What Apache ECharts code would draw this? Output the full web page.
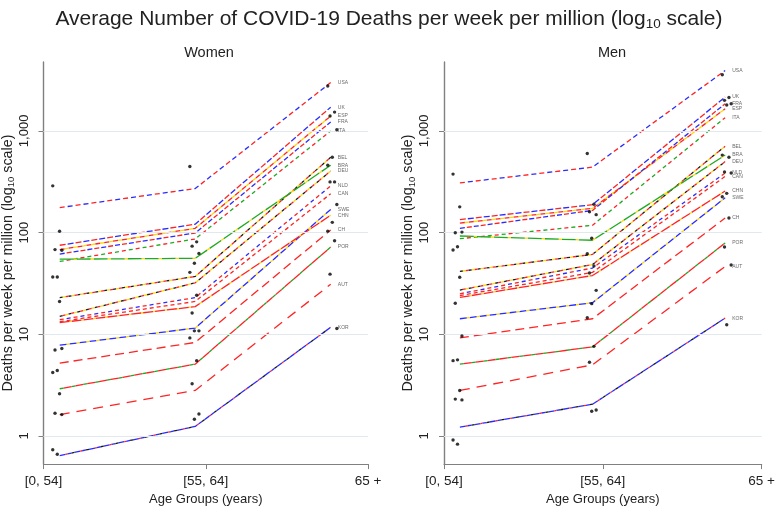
<!DOCTYPE html>
<html><head><meta charset="utf-8">
<script src="https://cdn.jsdelivr.net/npm/echarts@6/dist/echarts.min.js"></script>
<style>html,body{margin:0;padding:0;background:#fff}#c{width:778px;height:511px}</style>
</head><body><div id="c"></div>
<script>
// ---- data ----
const countries = ['USA','UK','ESP','FRA','ITA','BEL','BRA','DEU','NLD','CAN','SWE','CHN','CH','POR','AUT','KOR'];
const ageGroups = ['[0, 54]','[55, 64]','65 +'];
const yTicks = [1,10,100,1000];

// fitted values per country (same order as countries)
const womenAge0 = [176,75,68,61.5,52,22.9,54.7,15.0,13.9,13.3,7.8,13.0,5.2,2.91,1.62,0.64];
const womenAge1 = [271,121,110,99,86.5,37,55.8,32,22.9,21,11.5,18.7,8.3,5.08,2.8,1.24];
const womenAge2 = [2985,1710,1400,1225,1000,550,460,403,288,241,169,148,106,72,31,11.7];
const menAge0 = [308,134,124,110,87,41.5,92.5,27.2,25,24,14.2,23,9.2,5.08,2.8,1.22];
const menAge1 = [440,188,173,165,118,61,84,48.5,44.8,40.6,20.4,37.8,14.2,7.5,5.0,2.05];
const menAge2 = [3925,2150,1650,1850,1350,707,578,499,385,357,220,256,139,79,46.4,14.4];

// observed values (dots)
const womenObs0 = [288,103,68,67,36.5,36.5,21,7.0,7.25,4.4,4.2,2.6,1.67,1.62,0.66,0.73];
const womenObs1 = [447,81,73.5,62.4,49.9,40.6,24.2,16.2,10.8,10.8,9.2,5.5,3.26,1.64,1.46];
const womenObs2 = [2760,1530,1400,1025,550,460,315,315,189,126,103,83,39,11.4];
const menObs0 = [376,179,99.6,101,72.4,67.3,36.3,20.2,9.6,5.6,5.5,2.8,2.3,2.26,0.83,0.91];
const menObs1 = [600,190,160,150,88,62,47,40,27,20,14.5,7.6,5.3,1.8,1.75];
const menObs2 = [3565,2130,1997,1850,1800,578,550,395,385,243,225,139,72,48,12.4];

// ---- styling ----
const FONT = 'Liberation Sans, Arial, Helvetica, sans-serif';
const R='#ff2424', B='#2b2bff', Y='#ffd900', G='#1faa1f', K='#1a1a1a';
const flags = {
  USA:[[R,5],[null,3],[B,5],[null,3]],
  UK:[[R,6],[null,2],[B,6],[null,2]],
  ESP:[[R,5],[Y,4]],
  FRA:[[B,5],[null,2],[R,5],[null,2]],
  ITA:[[G,4],[null,3],[R,4],[null,3]],
  BEL:[[K,3],[Y,3],[R,3]],
  BRA:[[G,14],[Y,3]],
  DEU:[[K,3],[R,3],[Y,3]],
  NLD:[[R,4],[null,3],[B,4],[null,3]],
  CAN:[[R,4],[null,3]],
  SWE:[[B,7],[Y,3]],
  CHN:[[R,10],[Y,2]],
  CH:[[R,9],[null,5]],
  POR:[[G,4],[R,8]],
  AUT:[[R,10],[null,7]],
  KOR:[[B,6],[R,2],[B,4],[K,3]]
};
const linePos = [0.1, 0.935, 1.77];
const obsPos = [0.085, 0.93, 1.78];
const labelX = 1.805;

function lineSeries(ax, fits) {
  const out = [];
  countries.forEach((c, i) => {
    const pal = flags[c];
    const P = pal.reduce((s, p) => s + p[1], 0);
    const data = linePos.map((x, k) => [x, fits[k][i]]);
    let s = 0;
    pal.forEach(([col, len]) => {
      if (col) out.push({
        type:'line', xAxisIndex:ax, yAxisIndex:ax, data, symbol:'none', showSymbol:false,
        silent:true, animation:false, z:3,
        lineStyle:{color:col, width:1.3, type:[len, P - len], dashOffset:(P - s) % P, cap:'butt'}
      });
      s += len;
    });
  });
  return out;
}
function dotSeries(ax, obsArrays) {
  const data = [];
  obsArrays.forEach((arr, k) => {
    arr.forEach((v, i) => {
      const jit = (((i * 3) % 5) - 2) * 0.014;
      data.push([obsPos[k] + jit, v]);
    });
  });
  return {type:'scatter', xAxisIndex:ax, yAxisIndex:ax, data, symbolSize:3.4,
    itemStyle:{color:'#000'}, silent:true, animation:false, z:5};
}
function labelSeries(ax, fits) {
  return {type:'scatter', xAxisIndex:ax, yAxisIndex:ax, symbolSize:1,
    itemStyle:{color:'rgba(0,0,0,0)'}, silent:true, animation:false, z:6,
    data: countries.map((c, i) => ({name:c, value:[labelX, fits[2][i]]})),
    label:{show:true, position:'right', distance:1, formatter:'{b}', fontSize:5, color:'#444', fontFamily:FONT}};
}
function gridSeries(ax) {
  return {type:'scatter', xAxisIndex:ax, yAxisIndex:ax, data:[], silent:true, animation:false, z:1,
    markLine:{silent:true, symbol:['none','none'], label:{show:false}, animation:false,
      lineStyle:{color:'#e1e9ee', width:1, type:'solid'},
      data: yTicks.map(v => ({yAxis:v}))}};
}
const axisColor = '#808080';
const nameRich = {
  a:{fontSize:14.3, color:'#222', fontFamily:FONT, fontWeight:'normal'},
  b:{fontSize:9.5, color:'#222', fontFamily:FONT, fontWeight:'normal', verticalAlign:'bottom', lineHeight:17}
};
function xAxis(ax) {
  return {type:'value', gridIndex:ax, min:0, max:2,
    axisLine:{show:true, lineStyle:{color:axisColor, width:1.2}},
    axisTick:{show:true, customValues:[0,1,2], length:5, lineStyle:{color:axisColor}},
    axisLabel:{customValues:[0,1,2], formatter:v => ageGroups[Math.round(v)], fontSize:13.5, color:'#222', fontFamily:FONT, margin:10},
    splitLine:{show:false},
    name:'Age Groups (years)', nameLocation:'middle', nameGap:25,
    nameTextStyle:{fontSize:13, color:'#222', fontFamily:FONT}};
}
function yAxis(ax) {
  return {type:'log', logBase:10, gridIndex:ax, min:0.528, max:4760,
    axisLine:{show:true, lineStyle:{color:axisColor, width:1.4}},
    axisTick:{show:true, customValues:yTicks, length:5, lineStyle:{color:axisColor}},
    axisLabel:{customValues:yTicks, rotate:90, formatter:v => Number(v).toLocaleString('en-US'), fontSize:13, color:'#222', fontFamily:FONT, margin:13},
    splitLine:{show:false},
    name:'{a|Deaths per week per million (log}{b|10}{a| scale)}', nameLocation:'middle', nameGap:27,
    nameTextStyle:{rich:nameRich}};
}

const option = {
  backgroundColor:'#fff',
  animation:false,
  title:[
    {text:'{a|Average Number of COVID-19 Deaths per week per million (log}{b|10}{a| scale)}', left:'center', top:2,
     textStyle:{fontWeight:'normal', rich:{a:{fontSize:21, color:'#222', fontFamily:FONT, fontWeight:'normal'}, b:{fontSize:13.5, color:'#222', fontFamily:FONT, fontWeight:'normal', verticalAlign:'bottom', lineHeight:24}}}},
    {text:'Women', left:204, textAlign:'center', top:40, textStyle:{fontSize:14.5, fontWeight:'normal', color:'#222', fontFamily:FONT}},
    {text:'Men', left:607, textAlign:'center', top:40, textStyle:{fontSize:14.5, fontWeight:'normal', color:'#222', fontFamily:FONT}}
  ],
  grid:[
    {left:40, top:62, width:328, height:409},
    {left:444, top:62, width:326, height:409}
  ],
  xAxis:[xAxis(0), xAxis(1)],
  yAxis:[yAxis(0), yAxis(1)],
  series:[
    gridSeries(0), gridSeries(1),
    ...lineSeries(0, [womenAge0, womenAge1, womenAge2]),
    ...lineSeries(1, [menAge0, menAge1, menAge2]),
    dotSeries(0, [womenObs0, womenObs1, womenObs2]),
    dotSeries(1, [menObs0, menObs1, menObs2]),
    labelSeries(0, [womenAge0, womenAge1, womenAge2]),
    labelSeries(1, [menAge0, menAge1, menAge2])
  ]
};
const chart = echarts.init(document.getElementById('c'), null, {renderer:'canvas'});
chart.setOption(option);
</script>
</body></html>
